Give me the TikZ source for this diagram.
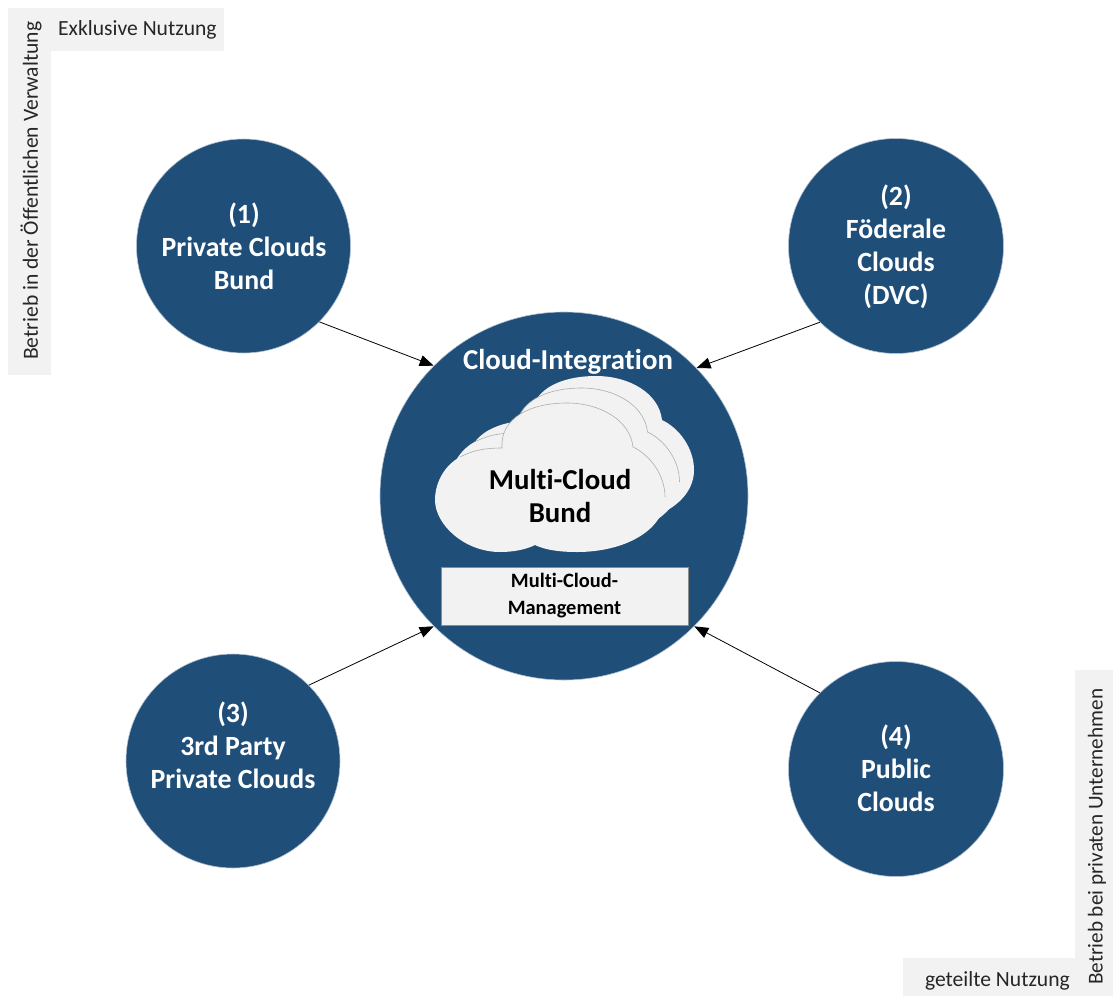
\documentclass[tikz,border=0pt]{standalone}
\usepackage{fontspec}
\setmainfont[Ligatures=NoCommon]{Carlito}
\usetikzlibrary{arrows.meta}
\definecolor{navy}{HTML}{1F4E79}
\definecolor{pale}{HTML}{F2F2F2}
\newcommand{\cloudshape}{(435,500) .. controls (435,525) and (465,552) .. (500,552)
 .. controls (515,552) and (527,549) .. (535,545)
 .. controls (545,550) and (560,552) .. (577,552)
 .. controls (625,552) and (665,530) .. (665,497)
 .. controls (665,475) and (650,455) .. (633,447)
 .. controls (630,420) and (600,403) .. (567,403)
 .. controls (530,403) and (500,418) .. (502,448)
 .. controls (480,448) and (470,452) .. (460,457)
 .. controls (445,465) and (435,482) .. (435,500) -- cycle}
\newcommand{\cloudedge}{(665,497)
 .. controls (665,475) and (650,455) .. (633,447)
 .. controls (630,420) and (600,403) .. (567,403)
 .. controls (530,403) and (500,418) .. (502,448)
 .. controls (480,448) and (470,452) .. (460,457)}
\tikzset{
 band/.style={fill=pale,draw=none},
 orb/.style={circle,fill=navy,draw=navy!35!white,line width=0.6pt,inner sep=0pt,minimum size=#1},
 orblabel/.style={text=white,align=center,font=\bfseries\fontsize{27.8}{33}\selectfont,inner sep=0pt},
 cloudlabel/.style={text=black,align=center,font=\bfseries\fontsize{28.8}{33}\selectfont,inner sep=0pt},
 mgmt/.style={fill=pale,draw=black!45,line width=0.5pt,minimum width=247pt,minimum height=58pt,inner sep=0pt,align=center,font=\bfseries\fontsize{20.4}{27}\selectfont},
 side/.style={text=black!85,font=\fontsize{21.6}{25}\selectfont,inner sep=0pt},
 link/.style={-{Triangle[length=14pt,width=11pt]},line width=0.8pt,black},
 cloudpart/.style={fill=pale,draw=none},
 cloudline/.style={draw=black!32,line width=0.6pt}
}
\begin{document}
\begin{tikzpicture}[x=1pt,y=-1pt]
\useasboundingbox (0,0) rectangle (1113,996);
\fill[band] (8,8) rectangle (51,375);
\fill[band] (51,8) rectangle (224,51);
\fill[band] (1075,670) rectangle (1113,996);
\fill[band] (903,958) rectangle (1075,996);
\node[side,anchor=west] (excl) at (58,30) {Exklusive Nutzung};
\node[side,rotate=90,anchor=west] (oeff) at (31,360) {Betrieb in der Öffentlichen Verwaltung};
\node[side,anchor=east] (geteilt) at (1070,981) {geteilte Nutzung};
\node[side,rotate=90,anchor=west] (priv) at (1097,985) {\fontsize{21.2}{25}\selectfont Betrieb bei privaten Unternehmen};

\node[orb=214pt] (c1) at (243.5,246) {};
\node[orb=215pt] (c2) at (896,246) {};
\node[orb=214pt] (c3) at (233,761) {};
\node[orb=215pt] (c4) at (896,769) {};
\node[orb=368pt] (hub) at (564,496) {};

\node[orblabel] (t1) at (244,246) {(1)\\Private Clouds\\Bund};
\node[orblabel] (t2) at (896,247) {(2)\\Föderale\\Clouds\\(DVC)};
\node[orblabel] (t3) at (233,745) {(3)\\3rd Party\\Private Clouds};
\node[orblabel] (t4) at (896,768) {(4)\\Public\\Clouds};
\node[orblabel,font=\bfseries\fontsize{28.8}{32}\selectfont] (hubt) at (568,361.5) {Cloud-Integration};

\begin{scope}[shift={(29,-27)}]
\path[cloudpart] \cloudshape;
\end{scope}
\begin{scope}[shift={(14.5,-15)}]
\path[cloudpart] \cloudshape;
\draw[cloudline] \cloudedge;
\end{scope}
\path[cloudpart] \cloudshape;
\draw[cloudline] \cloudedge;
\node[cloudlabel] (ct) at (560,495.5) {Multi-Cloud\\Bund};
\node[mgmt] (mg) at (564.5,596) {Multi-Cloud-\\Management};

\draw[link] (c1.-45.6) -- (hub.135.4);
\draw[link] (c2.-135) -- (hub.44.6);
\draw[link] (c3.45) -- (hub.-135);
\draw[link] (c4.135) -- (hub.-45);
\end{tikzpicture}
\end{document}
